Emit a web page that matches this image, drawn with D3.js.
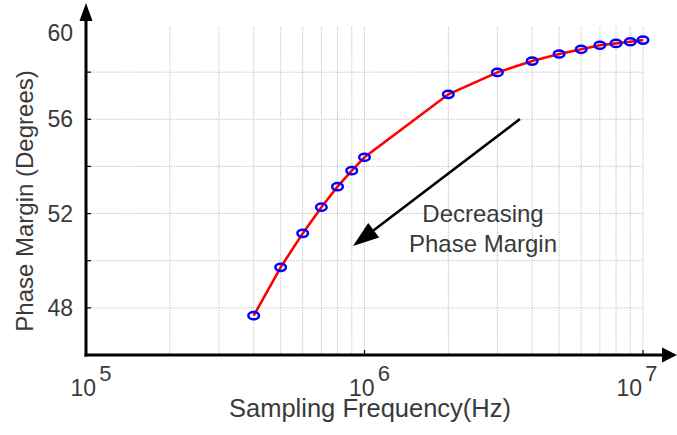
<!DOCTYPE html>
<html><head><meta charset="utf-8">
<script src="https://cdn.jsdelivr.net/npm/d3@7"></script>
<style>
html,body{margin:0;padding:0;background:#fff;}
svg{display:block;font-family:"Liberation Sans",Arial,sans-serif;}
</style></head>
<body>
<svg id="chart" width="677" height="435"></svg>
<script>
// ---- data ----
const freqs = [4e5,5e5,6e5,7e5,8e5,9e5,1e6,2e6,3e6,4e6,5e6,6e6,7e6,8e6,9e6,1e7];
const phaseMargin = [47.67,49.72,51.16,52.27,53.14,53.82,54.39,57.06,57.99,58.47,58.77,58.97,59.14,59.22,59.29,59.36];
const yTickValues = [48,50,52,54,56,58];
const yTickLabels = [48,52,56,60];
const xTickExponents = [5,6,7];
const xTitle = "Sampling Frequency(Hz)";
const yTitle = "Phase Margin (Degrees)";
const annotation = ["Decreasing","Phase Margin"];

const svg = d3.select("#chart");
const x = d3.scaleLog().domain([1e5,1e7]).range([86,643]);
const y = d3.scaleLinear().domain([46,60]).range([355,25]);
const textColor = "#3a3a3a";

// grid
const vgrid = [];
for (let d=1e5; d<1e7; d*=10) for (let k=2;k<=10;k++) vgrid.push(k*d);
svg.append("g").selectAll("line").data(vgrid).join("line")
  .attr("x1",d=>x(d)).attr("x2",d=>x(d)).attr("y1",y(60)+2).attr("y2",y(46))
  .attr("stroke","#c8c8c8").attr("stroke-width",1).attr("stroke-dasharray","1.5,1");
svg.append("g").selectAll("line").data(yTickValues).join("line")
  .attr("x1",x(1e5)).attr("x2",x(1e7)).attr("y1",d=>y(d)).attr("y2",d=>y(d))
  .attr("stroke","#c8c8c8").attr("stroke-width",1).attr("stroke-dasharray","1.5,1");

// axes
const ax = svg.append("g");
ax.append("line").attr("x1",x(1e5)).attr("x2",x(1e5)).attr("y1",y(46)+1.5).attr("y2",18)
  .attr("stroke","#000").attr("stroke-width",3);
ax.append("path").attr("d",`M${x(1e5)},3 L${x(1e5)-6.5},21 L${x(1e5)+6.5},21 Z`).attr("fill","#000");
ax.append("line").attr("x1",x(1e5)-1.5).attr("x2",666).attr("y1",y(46)).attr("y2",y(46))
  .attr("stroke","#000").attr("stroke-width",3);
ax.append("path").attr("d",`M677,${y(46)} L662,${y(46)-7.5} L662,${y(46)+7.5} Z`).attr("fill","#000");
// y ticks
ax.selectAll(".yt").data(yTickValues).join("line")
  .attr("x1",x(1e5)).attr("x2",x(1e5)+5).attr("y1",d=>y(d)).attr("y2",d=>y(d))
  .attr("stroke","#000").attr("stroke-width",1.2);
// x ticks
ax.selectAll(".xt").data([1e6,1e7]).join("line")
  .attr("x1",d=>x(d)).attr("x2",d=>x(d)).attr("y1",y(46)).attr("y2",y(46)-5)
  .attr("stroke","#000").attr("stroke-width",1.2);

// y tick labels
svg.append("g").selectAll("text").data(yTickLabels).join("text")
  .attr("x",73).attr("y",d=>Math.max(y(d),33)).attr("dy","0.35em")
  .attr("text-anchor","end").attr("font-size",23).attr("fill",textColor)
  .text(d=>d);

// x tick labels
const xl = svg.append("g").selectAll("text").data(xTickExponents).join("text")
  .attr("x",d=>Math.min(x(Math.pow(10,d))+5,637)).attr("y",396)
  .attr("text-anchor","middle").attr("font-size",23).attr("fill",textColor);
xl.append("tspan").text("10");
xl.append("tspan").attr("dx",3).attr("dy",-15).attr("font-size",22).text(d=>d);

// titles
svg.append("text").attr("x",370).attr("y",417).attr("text-anchor","middle")
  .attr("font-size",25.5).attr("fill",textColor).text(xTitle);
svg.append("text").attr("transform","translate(33,201) rotate(-90)").attr("text-anchor","middle")
  .attr("font-size",24).attr("fill",textColor).text(yTitle);

// line
const pts = freqs.map((f,i)=>[f,phaseMargin[i]]);
svg.append("path").datum(pts)
  .attr("d",d3.line().x(d=>x(d[0])).y(d=>y(d[1])))
  .attr("fill","none").attr("stroke","#ff0000").attr("stroke-width",2.6);
svg.append("g").selectAll("ellipse").data(pts).join("ellipse")
  .attr("cx",d=>x(d[0])).attr("cy",d=>y(d[1])).attr("rx",5.3).attr("ry",3.6)
  .attr("fill","none").attr("stroke","#0000ff").attr("stroke-width",2.5);

// annotation arrow
const a0=[520,119], a1=[353,246];
const ang=Math.atan2(a1[1]-a0[1],a1[0]-a0[0]);
const hl=26, hw=9;
const bx=a1[0]-hl*Math.cos(ang), by=a1[1]-hl*Math.sin(ang);
svg.append("line").attr("x1",a0[0]).attr("y1",a0[1]).attr("x2",bx).attr("y2",by)
  .attr("stroke","#000").attr("stroke-width",2.6);
svg.append("path").attr("d",`M${a1[0]},${a1[1]} L${bx+hw*Math.sin(ang)},${by-hw*Math.cos(ang)} L${bx-hw*Math.sin(ang)},${by+hw*Math.cos(ang)} Z`)
  .attr("fill","#000");
svg.append("g").selectAll("text").data(annotation).join("text")
  .attr("x",483).attr("y",(d,i)=>222+i*30).attr("text-anchor","middle")
  .attr("font-size",24).attr("fill",textColor).text(d=>d);
</script>
</body></html>
